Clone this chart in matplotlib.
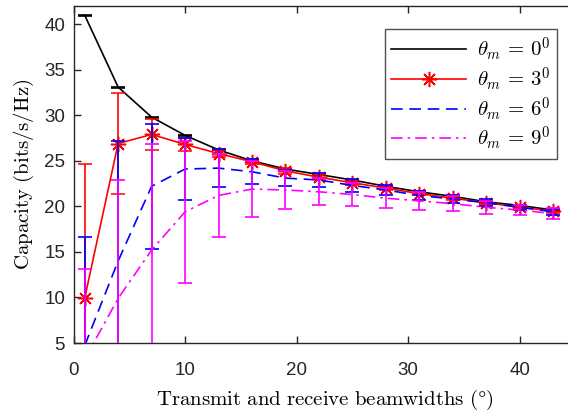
import numpy as np
import matplotlib
matplotlib.use('Agg')
import matplotlib.pyplot as plt

plt.rcParams['mathtext.fontset'] = 'cm'

# beamwidths (degrees)
beamwidth = [1, 4, 7, 10, 13, 16, 19, 22, 25, 28, 31, 34, 37, 40, 43]

# mean capacity for each misalignment
cap_0 = [41.0, 33.1, 29.8, 27.8, 26.2, 25.0, 24.1, 23.5, 22.9, 22.2, 21.6, 21.1, 20.5, 20.1, 19.6]
cap_3 = [9.9, 26.9, 27.9, 26.8, 25.8, 24.9, 23.9, 23.2, 22.6, 22.0, 21.4, 20.9, 20.4, 19.9, 19.5]
cap_6 = [4.7, 14.0, 22.2, 24.1, 24.2, 23.8, 23.1, 22.9, 22.3, 21.8, 21.2, 20.8, 20.4, 19.9, 19.4]
cap_9 = [3.2, 9.9, 15.2, 19.4, 21.2, 21.9, 21.8, 21.6, 21.3, 20.9, 20.6, 20.3, 19.9, 19.6, 19.2]

# error bar half-lengths
err_0 = [0.05] * 15
err_3 = [14.8, 5.5, 1.7, 0.7, 0.4, 0.3, 0.3, 0.2, 0.2, 0.2, 0.2, 0.2, 0.2, 0.2, 0.2]
err_6 = [11.9, 13.2, 6.85, 3.4, 2.05, 1.35, 0.9, 0.8, 0.7, 0.6, 0.5, 0.4, 0.4, 0.3, 0.3]
err_9 = [9.9, 13.0, 11.7, 7.8, 4.6, 3.1, 2.1, 1.5, 1.3, 1.1, 1.0, 0.8, 0.7, 0.6, 0.6]

labels = [r'$\theta_m\,=\,0^0$', r'$\theta_m\,=\,3^0$', r'$\theta_m\,=\,6^0$', r'$\theta_m\,=\,9^0$']

fig = plt.figure(figsize=(5.68, 4.17), dpi=100)
ax = fig.add_axes([73.5 / 568, 74 / 417, 502 / 568, 337 / 417])

asterisk = (8, 2, 0)
eb0 = ax.errorbar(beamwidth, cap_0, yerr=err_0, color='k', lw=1.2, elinewidth=1.2,
                  capsize=5, capthick=1.2, zorder=2)
eb3 = ax.errorbar(beamwidth, cap_3, yerr=err_3, color='red', lw=1.2, elinewidth=1.2,
                  capsize=5, capthick=1.2, marker=asterisk, markersize=11, mew=1.1, zorder=3)
eb6 = ax.errorbar(beamwidth, cap_6, yerr=err_6, color='blue', lw=1.2, ls=(0, (7, 4)),
                  elinewidth=1.2, capsize=5, capthick=1.2, zorder=4)
eb9 = ax.errorbar(beamwidth, cap_9, yerr=err_9, color='magenta', lw=1.2, ls=(0, (7, 3, 1.5, 3)),
                  elinewidth=1.2, capsize=5, capthick=1.2, zorder=5)

ax.set_xlim(0, 45)
ax.set_ylim(5, 42)
ax.set_xticks([0, 10, 20, 30, 40])
ax.set_yticks([5, 10, 15, 20, 25, 30, 35, 40])

for s in ax.spines.values():
    s.set_color('#262626')
    s.set_linewidth(1.0)
ax.tick_params(direction='in', top=True, right=True, length=5, width=1.0,
               colors='#262626', labelsize=13.5)
ax.tick_params(axis='x', pad=14)
ax.tick_params(axis='y', pad=6)
for t in ax.get_xticklabels() + ax.get_yticklabels():
    t.set_fontfamily('Liberation Sans')

ax.set_xlabel(r'$\mathrm{Transmit\ and\ receive\ beamwidths\ (\degree)}$', fontsize=15, labelpad=6)
ax.set_ylabel(r'$\mathrm{Capacity\ (bits/s/Hz)}$', fontsize=15, labelpad=6)

handles = [eb0[0], eb3[0], eb6[0], eb9[0]]
leg = ax.legend(handles, labels, loc='upper left', bbox_to_anchor=(385 / 568, 1 - 29 / 417),
                bbox_transform=fig.transFigure, fontsize=15, handlelength=3.6,
                frameon=True, fancybox=False, edgecolor='#262626',
                borderpad=0.3, labelspacing=0.1, handletextpad=0.5, borderaxespad=0)
leg.get_frame().set_linewidth(1.0)

fig.savefig('out.png', dpi=100)
